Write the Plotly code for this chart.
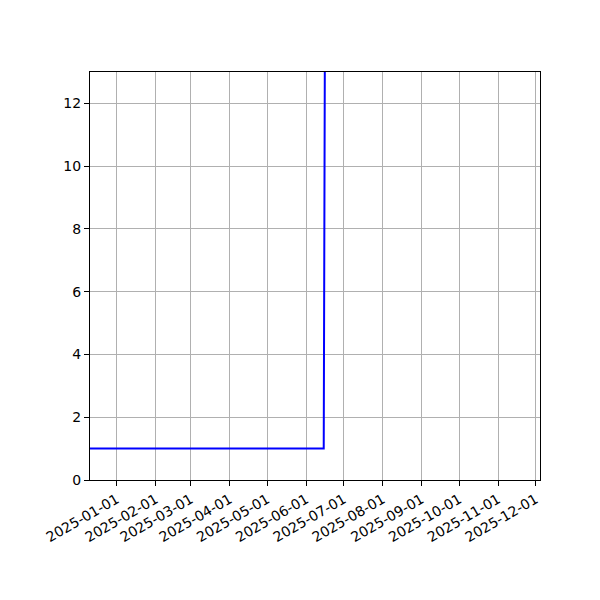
import plotly.graph_objects as go

dates = ["2024-12-01", "2025-06-15", "2025-06-16", "2025-07-01"]
values = [1, 1, 15, 200]
x_range = ["2024-12-10 16:00", "2025-12-04 10:00"]
y_range = [0, 13]
y_ticks = [0, 2, 4, 6, 8, 10, 12]

fig = go.Figure()
fig.add_trace(go.Scatter(x=dates, y=values, mode="lines",
                         line=dict(color="#0000ff", width=2), showlegend=False))

axis_common = dict(showline=True, linecolor="black", linewidth=1, mirror=True,
                   ticks="outside", ticklen=5, tickwidth=1, tickcolor="black",
                   showgrid=True, gridcolor="#b0b0b0", gridwidth=1, zeroline=False,
                   tickfont=dict(family="DejaVu Sans", size=14, color="black"))

fig.update_xaxes(range=x_range, tick0="2025-01-01", dtick="M1",
                 tickformat="%Y-%m-%d", tickangle=-30, **axis_common)
fig.update_yaxes(range=y_range, tickvals=y_ticks, **axis_common)

fig.update_layout(width=600, height=600, plot_bgcolor="white", paper_bgcolor="white",
                  margin=dict(l=82, r=68, t=64, b=128, autoexpand=False))

fig.write_html("out.html")
